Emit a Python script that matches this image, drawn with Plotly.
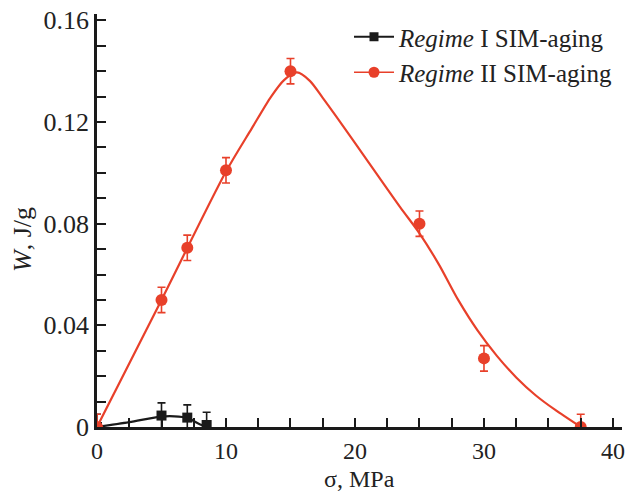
import plotly.graph_objects as go

# Measured data points
sigma_I = [0, 5, 7, 8.5]
W_I = [0.0, 0.0045, 0.0037, 0.0008]
err_I = [0.005, 0.005, 0.005, 0.005]

sigma_II = [0, 5, 7, 10, 15, 25, 30, 37.5]
W_II = [0.0, 0.050, 0.0705, 0.101, 0.140, 0.080, 0.027, 0.0]
err_II = [0.005, 0.005, 0.005, 0.005, 0.005, 0.005, 0.005, 0.005]

# Fitted curves
fit_x_I = [0, 2.5, 5, 6, 7, 8, 8.5]
fit_y_I = [0.0, 0.0019, 0.0041, 0.0042, 0.0036, 0.0010, 0.0003]

fit_x_II = [0, 5, 10, 12, 13.5, 14.5, 15.5, 16.5, 17.5, 18.5, 21, 23.5, 25, 26.5, 28,
            29.5, 31, 32.5, 34, 35.5, 37.5]
fit_y_II = [0.0, 0.050, 0.1005, 0.1175, 0.1300, 0.1365, 0.1395, 0.1362, 0.1295, 0.1225,
            0.1045, 0.0865, 0.0762, 0.0640, 0.0500, 0.0380, 0.0280, 0.0195, 0.0125,
            0.0068, 0.0]

names = ["<i>Regime</i> I SIM-aging", "<i>Regime</i> II SIM-aging"]
x_title = "σ, MPa"
y_title = "<i>W</i>, J/g"

BLACK = "#1a1a1a"
RED = "#e8402a"
FONT = "Liberation Serif"

fig = go.Figure()

# Regime I
fig.add_trace(go.Scatter(x=fit_x_I, y=fit_y_I, mode="lines",
                         line=dict(color=BLACK, width=2.2, shape="spline", smoothing=0.8),
                         showlegend=False, hoverinfo="skip"))
fig.add_trace(go.Scatter(x=sigma_I, y=W_I, mode="markers",
                         marker=dict(symbol="square", size=10, color=BLACK),
                         error_y=dict(type="data", array=err_I, color=BLACK, thickness=1.6, width=4),
                         showlegend=False))
# Regime II
fig.add_trace(go.Scatter(x=fit_x_II, y=fit_y_II, mode="lines",
                         line=dict(color=RED, width=2.2, shape="spline", smoothing=0.8),
                         showlegend=False, hoverinfo="skip"))
fig.add_trace(go.Scatter(x=sigma_II, y=W_II, mode="markers",
                         marker=dict(symbol="circle", size=12, color=RED),
                         error_y=dict(type="data", array=err_II, color=RED, thickness=1.6, width=4),
                         showlegend=False))

# Legend entries
fig.add_trace(go.Scatter(x=[None], y=[None], mode="lines+markers", name=names[0],
                         line=dict(color=BLACK, width=2), marker=dict(symbol="square", size=9, color=BLACK)))
fig.add_trace(go.Scatter(x=[None], y=[None], mode="lines+markers", name=names[1],
                         line=dict(color=RED, width=1.5), marker=dict(symbol="circle", size=11, color=RED)))

fig.update_layout(
    width=629, height=493,
    margin=dict(l=97, r=7, t=14, b=66, autoexpand=False),
    plot_bgcolor="white", paper_bgcolor="white",
    font=dict(family=FONT, size=24, color="#222222"),
    legend=dict(x=0.48, y=1.0, xanchor="left", yanchor="top",
                bgcolor="rgba(0,0,0,0)", font=dict(family=FONT, size=25, color="#222222"),
                tracegroupgap=0, itemwidth=40),
    xaxis=dict(range=[0, 40.7], tickvals=[0, 10, 20, 30, 40], showgrid=False, zeroline=False,
               showline=True, linecolor=BLACK, linewidth=2.5,
               ticks="inside", ticklen=9, tickwidth=1.5, tickcolor=BLACK,
               minor=dict(dtick=2.5, tick0=0, ticks="inside", ticklen=9, tickwidth=1.5, tickcolor=BLACK),
               tickfont=dict(family=FONT, size=24)),
    yaxis=dict(range=[0, 0.1625], tickvals=[0, 0.04, 0.08, 0.12, 0.16],
               ticktext=["0", "0.04", "0.08", "0.12", "0.16"], showgrid=False, zeroline=False,
               showline=True, linecolor=BLACK, linewidth=2.5,
               ticks="inside", ticklen=9, tickwidth=1.5, tickcolor=BLACK,
               minor=dict(dtick=0.01, tick0=0, ticks="inside", ticklen=9, tickwidth=1.5, tickcolor=BLACK),
               tickfont=dict(family=FONT, size=26)),
    annotations=[
        dict(text=x_title, xref="paper", yref="paper", x=0.5, y=-0.125,
             xanchor="center", yanchor="middle", showarrow=False,
             font=dict(family=FONT, size=24, color="#222222")),
        dict(text=y_title, xref="paper", yref="paper", x=-0.143, y=0.455, textangle=-90,
             xanchor="center", yanchor="middle", showarrow=False,
             font=dict(family=FONT, size=26, color="#222222")),
    ],
)

fig.write_html("out.html", config={"displayModeBar": False},
               post_script="document.body.style.margin='0';")
